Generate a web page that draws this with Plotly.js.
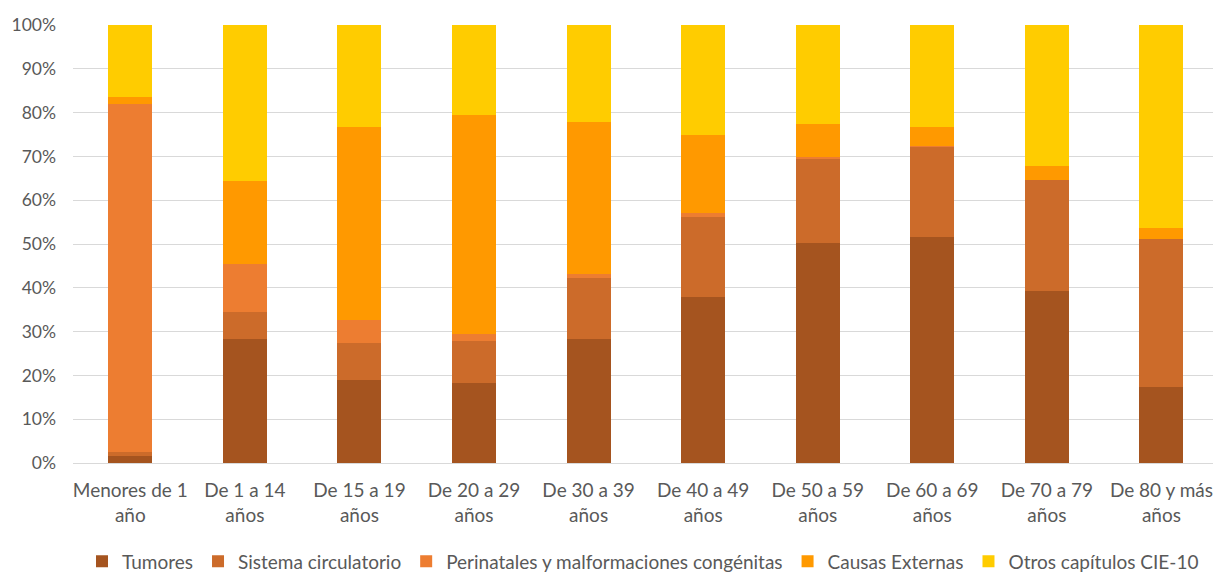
<!DOCTYPE html>
<html>
<head>
<meta charset="utf-8">
<script src="https://cdn.plot.ly/plotly-3.0.1.min.js"></script>
<style>html,body{margin:0;padding:0;background:#fff;overflow:hidden}#chart{width:1213px;height:572px}</style>
</head>
<body>
<div id="chart"></div>
<script>
const categories = ["Menores de 1<br>año","De 1 a 14<br>años","De 15 a 19<br>años","De 20 a 29<br>años","De 30 a 39<br>años","De 40 a 49<br>años","De 50 a 59<br>años","De 60 a 69<br>años","De 70 a 79<br>años","De 80 y más<br>años"];
const tumores      = [1.5, 28.2, 18.9, 18.3, 28.2, 37.9, 50.2, 51.7, 39.2, 17.4];
const circulatorio = [0.9,  6.2,  8.4,  9.5, 14.0, 18.3, 19.1, 20.7, 25.4, 33.7];
const perinatales  = [79.5, 11.0, 5.4,  1.7,  0.9,  0.8,  0.6,  0.2,  0.1,  0.1];
const externas     = [1.6, 19.0, 44.1, 50.0, 34.7, 18.0,  7.4,  4.2,  3.1,  2.4];
const otros        = [16.5, 35.6, 23.2, 20.5, 22.2, 25.0, 22.7, 23.4, 32.3, 46.5];
const yTickVals    = [0,10,20,30,40,50,60,70,80,90,100];
const yTickText    = ["0%","10%","20%","30%","40%","50%","60%","70%","80%","90%","100%"];
const seriesNames  = ["Tumores","Sistema circulatorio","Perinatales y malformaciones congénitas","Causas Externas","Otros capítulos CIE-10"];
const seriesColors = ["#A5541F","#CC6B2A","#ED7D31","#FF9900","#FFCC00"];
const seriesData = [tumores, circulatorio, perinatales, externas, otros];

const traces = seriesData.map((vals, i) => ({
  type: 'bar',
  x: categories.map((c, k) => k),
  y: vals,
  name: seriesNames[i],
  marker: {color: seriesColors[i]},
  hoverinfo: 'none'
}));

const layout = {
  width: 1213, height: 572,
  barmode: 'stack',
  barnorm: 'percent',
  bargap: 0.616,
  paper_bgcolor: '#fff', plot_bgcolor: '#fff',
  margin: {l: 73, r: 0, t: 25, b: 109, autoexpand: false},
  font: {family: 'Lato, "Open Sans", sans-serif', size: 16, color: '#595959'},
  xaxis: {
    range: [-0.5, 9.45],
    tickmode: 'array',
    tickvals: categories.map((c, k) => k),
    ticktext: categories,
    showgrid: false, zeroline: false, showline: false, ticks: '',
    ticklabelstandoff: 14,
    ticklabeloverflow: 'allow',
    automargin: false,
    tickfont: {size: 19, color: '#595959'},
    fixedrange: true
  },
  yaxis: {
    range: [0, 100],
    tickvals: yTickVals,
    ticktext: yTickText,
    showgrid: true, gridcolor: '#d9d9d9', gridwidth: 1,
    zeroline: true, zerolinecolor: '#d9d9d9', zerolinewidth: 1,
    showline: false, ticks: '',
    ticklabelstandoff: 16,
    automargin: false,
    tickfont: {size: 17.5, color: '#595959'},
    fixedrange: true
  },
  showlegend: true,
  legend: {
    orientation: 'h', x: 0.5, xanchor: 'center', y: -0.2245, yanchor: 'middle',
    font: {size: 19, color: '#595959'},
    itemclick: false, itemdoubleclick: false,
    traceorder: 'normal'
  }
};

Plotly.newPlot('chart', traces, layout, {displayModeBar: false, staticPlot: true});
</script>
</body>
</html>
